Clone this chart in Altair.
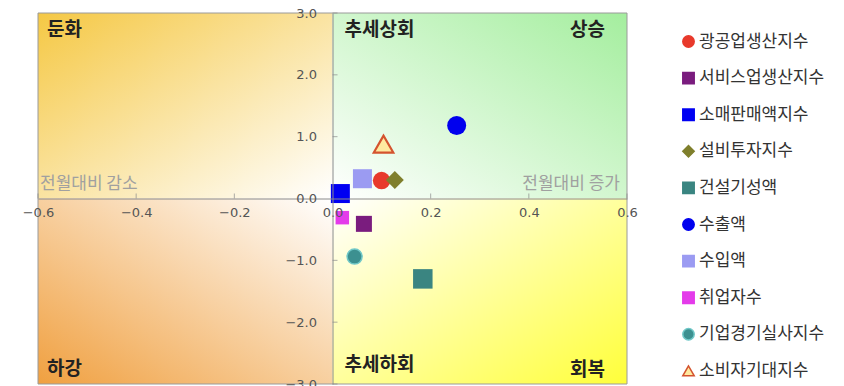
import altair as alt
import pandas as pd

# ---- data ----
series = ["광공업생산지수", "서비스업생산지수", "소매판매액지수", "설비투자지수", "건설기성액",
          "수출액", "수입액", "취업자수", "기업경기실사지수", "소비자기대지수"]
x_vals = [0.100, 0.064, 0.016, 0.127, 0.184, 0.253, 0.061, 0.020, 0.045, 0.104]
y_vals = [0.29, -0.41, 0.08, 0.30, -1.30, 1.18, 0.32, -0.31, -0.94, 0.88]
x_domain = [-0.6, 0.6]
y_domain = [-3.0, 3.0]
x_ticks = [-0.6, -0.4, -0.2, 0.0, 0.2, 0.4, 0.6]
y_ticks = [-3.0, -2.0, -1.0, 0.0, 1.0, 2.0, 3.0]

# ---- styles ----
shapes = ["circle", "square", "square", "diamond", "square",
          "circle", "square", "square", "circle", "triangle-up"]
fill_colors = ["#E8392B", "#7A1C7E", "#0000F2", "#7F7F2C", "#3A8581",
               "#0000EE", "#9B9BF2", "#E43BEA", "#3C9090", "#FFE9A0"]
stroke_colors = ["#E8392B", "#7A1C7E", "#0000F2", "#7F7F2C", "#3A8581",
                 "#0000EE", "#9B9BF2", "#E43BEA", "#70C8C8", "#D4532E"]
marker_sizes = [306, 256, 361, 324, 380, 361, 361, 182, 225, 380]
stroke_widths = [0, 0, 0, 0, 0, 0, 0, 0, 1.5, 2.2]

W, H = 589, 371
KR = "Noto Sans CJK KR"

pts = pd.DataFrame({"series": series, "x": x_vals, "y": y_vals,
                    "sz": marker_sizes, "sw": stroke_widths})

AX = alt.Axis(values=x_ticks, format=".1f", offset=-H / 2, ticks=False, labelPadding=8,
              domainColor="#8a8a8a", domainWidth=1, labelFont="DejaVu Sans", labelFontSize=13,
              labelColor="#555", labelFlush=False, labelOverlap=False, labelBound=False,
              grid=False, title=None, zindex=1)
AY = alt.Axis(values=y_ticks, format=".1f", offset=-W / 2, ticks=False, labelPadding=16,
              domainColor="#8a8a8a", domainWidth=1, labelFont="DejaVu Sans", labelFontSize=13,
              labelColor="#555", labelFlush=False, labelOverlap=False, labelBound=False,
              grid=False, title=None, zindex=1)
SX = alt.Scale(domain=x_domain, nice=False, zero=False)
SY = alt.Scale(domain=y_domain, nice=False, zero=False)


def X(f):
    return alt.X(f, type="quantitative", scale=SX, axis=AX)


def Y(f):
    return alt.Y(f, type="quantitative", scale=SY, axis=AY)


def XD(v):
    return alt.XDatum(v, type="quantitative", scale=SX, axis=AX)


def YD(v):
    return alt.YDatum(v, type="quantitative", scale=SY, axis=AY)


def grad(color, x1, y1, x2, y2):
    return alt.Gradient(gradient="linear",
                        stops=[alt.GradientStop(offset=0, color=color),
                               alt.GradientStop(offset=1, color="#FFFFFF")],
                        x1=x1, y1=y1, x2=x2, y2=y2)


def quad(xa, xb, ya, yb, g):
    df = pd.DataFrame({"x": [xa], "x2": [xb], "y": [ya], "y2": [yb]})
    return alt.Chart(df).mark_rect(fill=g, strokeWidth=0).encode(
        x=X("x"), x2="x2", y=Y("y"), y2="y2")


q_tl = quad(x_domain[0], 0, 0, y_domain[1], grad("#F5C844", 0, 0, 1, 1))
q_tr = quad(0, x_domain[1], 0, y_domain[1], grad("#A4EE9E", 1, 0, 0, 1))
q_bl = quad(x_domain[0], 0, y_domain[0], 0, grad("#F0A040", 0, 1, 1, 0))
q_br = quad(0, x_domain[1], y_domain[0], 0, grad("#FFFF3A", 1, 1, 0, 0))

frame_df = pd.DataFrame({"x": [x_domain[0]], "x2": [x_domain[1]], "y": [y_domain[0]], "y2": [y_domain[1]]})
frame = alt.Chart(frame_df).mark_rect(fillOpacity=0, stroke="#9a9a9a", strokeWidth=1).encode(
    x=X("x"), x2="x2", y=Y("y"), y2="y2")

xt = alt.Chart(pd.DataFrame({"t": [v for v in x_ticks if v != 0]})).mark_tick(
    orient="vertical", size=5, thickness=1, color="#8a8a8a", yOffset=-2.5).encode(
    x=X("t"), y=YD(0))
yt = alt.Chart(pd.DataFrame({"t": [v for v in y_ticks if v != 0]})).mark_tick(
    orient="horizontal", size=5, thickness=1, color="#8a8a8a", xOffset=2.5).encode(
    y=Y("t"), x=XD(0))


def label(text, xv, yv, align, dx, dy, size=19, bold=True, color="#222"):
    return alt.Chart(pd.DataFrame({"a": [0]})).mark_text(
        text=text, align=align, baseline="middle", dx=dx, dy=dy, font=KR,
        fontSize=size, fontWeight="bold" if bold else "normal", color=color).encode(
        x=XD(xv), y=YD(yv))


labels = [
    label("둔화", x_domain[0], y_domain[1], "left", 9, 17),
    label("추세상회", 0, y_domain[1], "left", 12, 17),
    label("상승", x_domain[1], y_domain[1], "right", -22, 17),
    label("하강", x_domain[0], y_domain[0], "left", 9, -15),
    label("추세하회", 0, y_domain[0], "left", 12, -19),
    label("회복", x_domain[1], y_domain[0], "right", -22, -14),
    label("전월대비 감소", x_domain[0], 0, "left", 2, -15, 17, False, "#A0A0A0"),
    label("전월대비 증가", x_domain[1], 0, "right", -7, -15, 17, False, "#A0A0A0"),
]

LEG = alt.Legend(orient="none", legendX=642, legendY=20, title=None, labelFont=KR,
                 labelFontSize=17, labelColor="#333", symbolSize=130, rowPadding=17.6,
                 labelOffset=2, padding=0, symbolStrokeWidth=1.5)

points = alt.Chart(pts).mark_point(filled=True, opacity=1).encode(
    x=X("x"), y=Y("y"),
    fill=alt.Fill("series:N", scale=alt.Scale(domain=series, range=fill_colors), legend=LEG, sort=series),
    stroke=alt.Stroke("series:N", scale=alt.Scale(domain=series, range=stroke_colors), legend=LEG, sort=series),
    shape=alt.Shape("series:N", scale=alt.Scale(domain=series, range=shapes), legend=LEG, sort=series),
    size=alt.Size("sz:Q", scale=None, legend=None),
    strokeWidth=alt.StrokeWidth("sw:Q", scale=None, legend=None),
)

chart = alt.layer(q_tl, q_tr, q_bl, q_br, frame, xt, yt, *labels, points).properties(
    width=W, height=H,
    autosize=alt.AutoSizeParams(type="none"),
    padding={"left": 38, "top": 13, "right": 217, "bottom": 2},
    background="white",
).configure_view(stroke=None)

chart.save("out.html", embed_options={"renderer": "svg", "actions": False})
